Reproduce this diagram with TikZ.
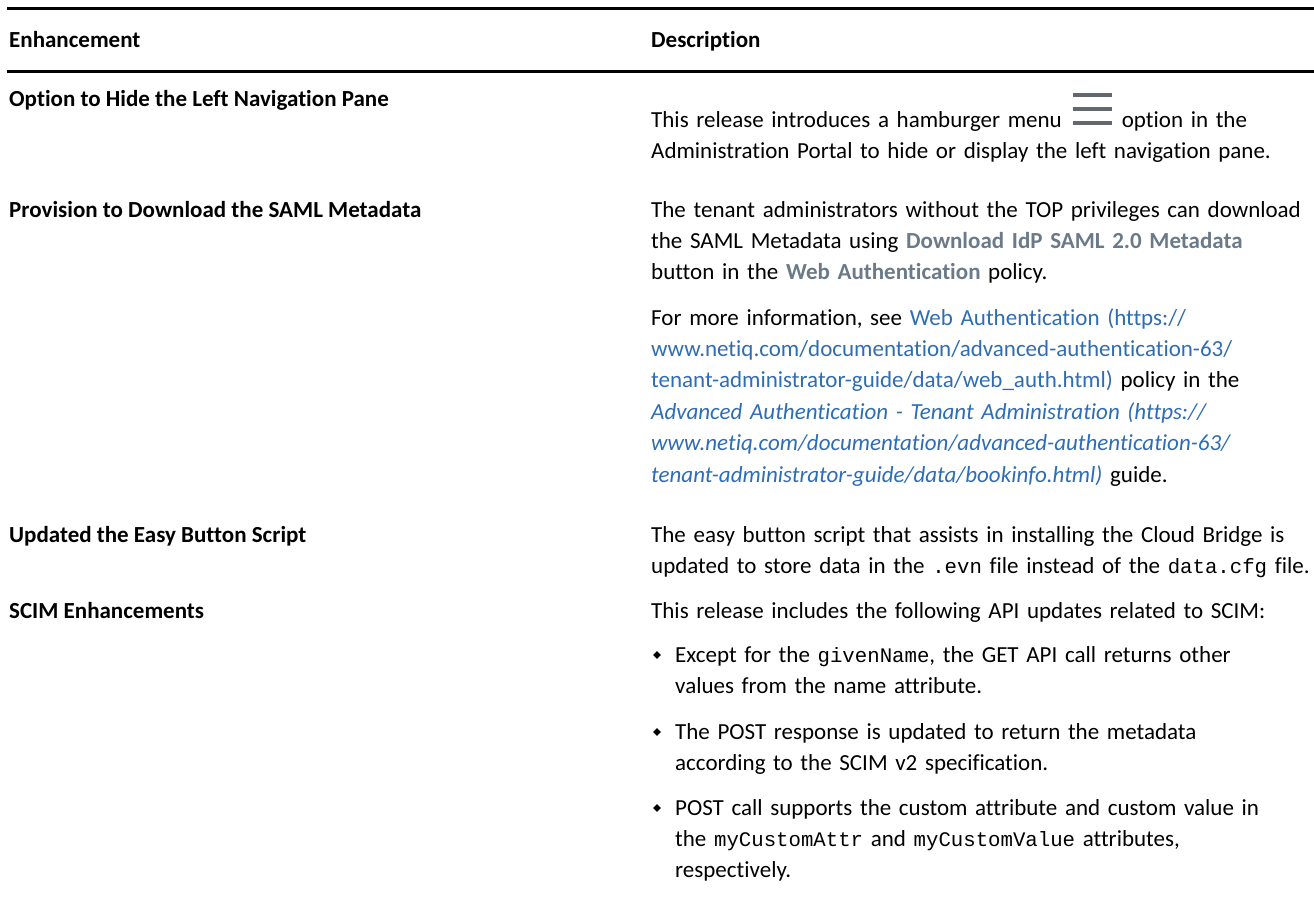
\documentclass[tikz,border=0pt]{standalone}
\usepackage{fontspec}
\setmainfont{Carlito}[Ligatures=NoCommon]
\setmonofont{Liberation Mono}[Scale=0.9]
\definecolor{uigray}{RGB}{107, 122, 136}
\definecolor{linkblue}{RGB}{46, 109, 180}
\definecolor{menugray}{RGB}{98, 104, 110}
\usetikzlibrary{shapes, positioning}

\newcommand{\menuicon}{{\color{menugray}\rlap{\rule[30.4pt]{39pt}{3.3pt}}\rlap{\rule[16.4pt]{39pt}{3.3pt}}\rule[2.4pt]{39pt}{3.3pt}}}
\newcommand{\uitext}[1]{\textbf{\color{uigray}#1}}
\newcommand{\lnk}[1]{{\color{linkblue}#1}}

\tikzset{
  cell/.style={anchor=base west, inner sep=0pt, font={\fontsize{23}{31.4}\selectfont}},
  headcell/.style={cell, font={\fontsize{23}{31.4}\selectfont\bfseries}},
  desc/.style={cell, text width=700pt, align=left},
  bulletmark/.style={diamond, fill=black, inner sep=0pt, minimum size=8pt},
  tablerule/.style={line width=2.7pt}
}

\begin{document}
\begin{tikzpicture}[x=1pt, y=-1pt]
  \useasboundingbox (0,0) rectangle (1314,916);

  % Rules
  \draw[tablerule] (7,8.5) -- (1314,8.5);
  \draw[tablerule] (7,71.5) -- (1314,71.5);

  % Header
  \node[headcell] (hEnh) at (9,47) {Enhancement};
  \node[headcell] (hDesc) at (651,47) {Description};

  % Navigation pane
  \node[headcell] (navLabel) at (9,106) {Option to Hide the Left Navigation Pane};
  \node[desc] (navDesc) at (651,127) {This release introduces a hamburger menu\hspace{11pt}\menuicon\hspace{10pt}option in the\\
    Administration Portal to hide or display the left navigation pane.};

  % SAML metadata
  \node[headcell] (samlLabel) at (9,217) {Provision to Download the SAML Metadata};
  \node[desc] (samlDesc) at (651,217) {The tenant administrators without the TOP privileges can download\\
    the SAML Metadata using \uitext{Download IdP SAML 2.0 Metadata}\\
    button in the \uitext{Web Authentication} policy.};
  \node[desc] (samlMore) at (651,325) {For more information, see \lnk{Web Authentication (https://}\\
    \lnk{www.netiq.com/documentation/advanced-authentication-63/}\\
    \lnk{tenant-administrator-guide/data/web\_auth.html)} policy in the\\
    \lnk{\itshape Advanced Authentication - Tenant Administration (https://}\\
    \lnk{\itshape www.netiq.com/documentation/advanced-authentication-63/}\\
    \lnk{\itshape tenant-administrator-guide/data/bookinfo.html)} guide.};

  % Easy button
  \node[headcell] (easyLabel) at (9,542) {Updated the Easy Button Script};
  \node[desc] (easyDesc) at (651,542) {The easy button script that assists in installing the Cloud Bridge is\\
    updated to store data in the \texttt{.evn} file instead of the \texttt{data.cfg} file.};

  % SCIM
  \node[headcell] (scimLabel) at (9,618) {SCIM Enhancements};
  \node[desc] (scimDesc) at (651,618) {This release includes the following API updates related to SCIM:};

  \node[bulletmark] (mark1) at (657,655) {};
  \node[desc] (item1) at (675,662) {Except for the \texttt{givenName}, the GET API call returns other\\
    values from the name attribute.};
  \node[bulletmark] (mark2) at (657,732) {};
  \node[desc] (item2) at (675,739) {The POST response is updated to return the metadata\\
    according to the SCIM v2 specification.};
  \node[bulletmark] (mark3) at (657,808) {};
  \node[desc] (item3) at (675,815) {POST call supports the custom attribute and custom value in\\
    the \texttt{myCustomAttr} and \texttt{myCustomValue} attributes,\\
    respectively.};
\end{tikzpicture}
\end{document}
